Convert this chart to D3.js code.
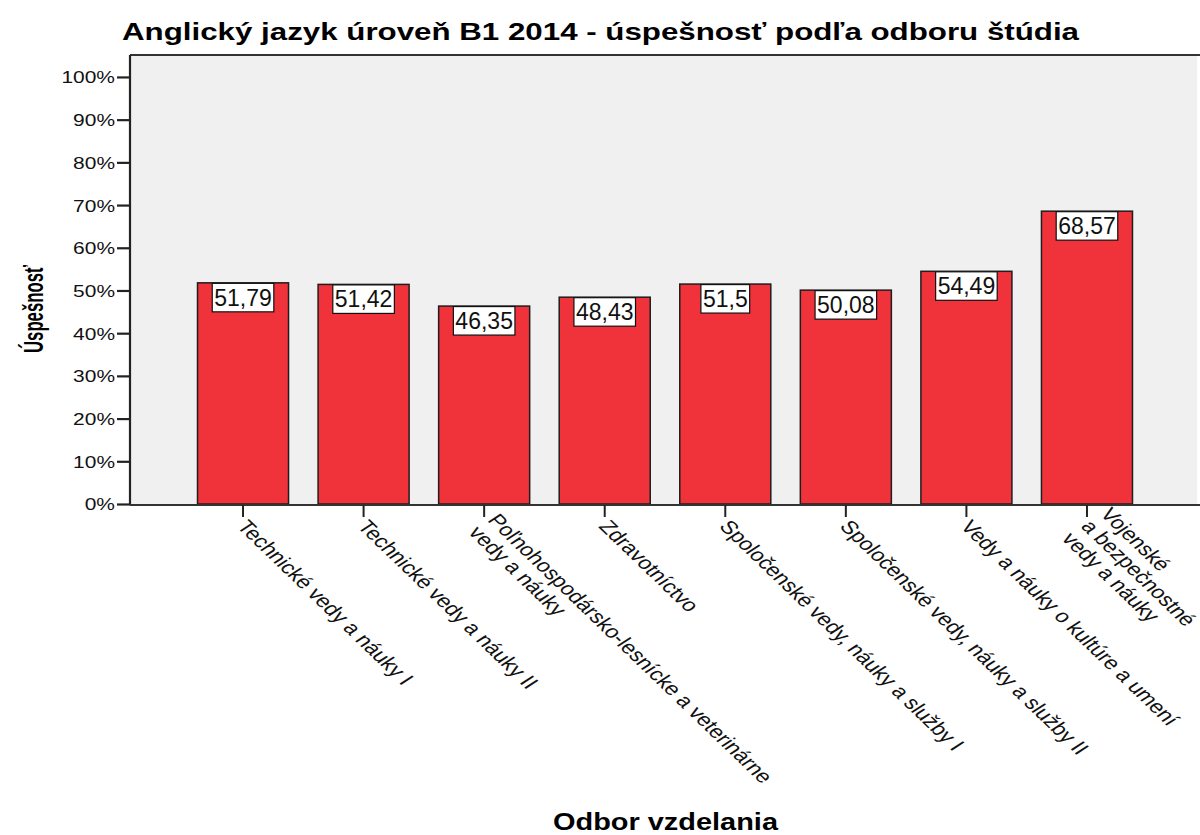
<!DOCTYPE html>
<html>
<head>
<meta charset="utf-8">
<script src="https://cdn.jsdelivr.net/npm/d3@7"></script>
<style>
  html, body { margin: 0; padding: 0; background: #ffffff; }
  svg { display: block; font-family: "Liberation Sans", Arial, sans-serif; }
</style>
</head>
<body>
<svg id="chart" width="1200" height="835"></svg>
<script>
// Study fields (line breaks mark wrapped axis labels)
const categories = [
  "Technické vedy a náuky I",
  "Technické vedy a náuky II",
  "Poľnohospodársko-lesnícke a veterinárne\nvedy a náuky",
  "Zdravotníctvo",
  "Spoločenské vedy, náuky a služby I",
  "Spoločenské vedy, náuky a služby II",
  "Vedy a náuky o kultúre a umení",
  "Vojenské\na bezpečnostné\nvedy a náuky"
];
// Success rate in percent
const values = [51.79, 51.42, 46.35, 48.43, 51.5, 50.08, 54.49, 68.57];
const valueLabels = ["51,79", "51,42", "46,35", "48,43", "51,5", "50,08", "54,49", "68,57"];
const yTicks = [0, 10, 20, 30, 40, 50, 60, 70, 80, 90, 100];

const titleText = "Anglický jazyk úroveň B1 2014 - úspešnosť podľa odboru štúdia";
const yTitle = "Úspešnosť";
const xTitle = "Odbor vzdelania";

const svg = d3.select("#chart");

// Text in this chart is drawn wide: horizontal stretch factor
const SX = 1.27;

const plot = { left: 130, right: 1197, top: 55, bottom: 504 };

const x = d3.scaleBand()
  .domain(d3.range(categories.length))
  .range([plot.left, 1200])
  .paddingInner(0.245)
  .paddingOuter(0.56);

const y = d3.scaleLinear()
  .domain([0, 105])
  .range([plot.bottom, plot.top + 0.6]);

// Plot background
svg.append("rect")
  .attr("x", plot.left).attr("y", plot.top)
  .attr("width", plot.right - plot.left).attr("height", plot.bottom - plot.top)
  .attr("fill", "#f0f0f0");

// Top frame line
svg.append("line")
  .attr("x1", plot.left).attr("x2", 1200)
  .attr("y1", plot.top).attr("y2", plot.top)
  .attr("stroke", "#333").attr("stroke-width", 2);

// Bars
svg.append("g").selectAll("rect")
  .data(values)
  .join("rect")
  .attr("x", (d, i) => x(i))
  .attr("y", d => y(d))
  .attr("width", x.bandwidth())
  .attr("height", d => y(0) - y(d))
  .attr("fill", "#f0323b")
  .attr("stroke", "#1e1e1e")
  .attr("stroke-width", 1.5);

// Value labels in white boxes at the top of each bar
const vl = svg.append("g").selectAll("g")
  .data(values)
  .join("g")
  .attr("transform", (d, i) => `translate(${x(i) + x.bandwidth() / 2},${y(d)})`);
const vlRect = vl.append("rect")
  .attr("fill", "#ffffff")
  .attr("stroke", "#111")
  .attr("stroke-width", 1.2);
const vlText = vl.append("text")
  .attr("text-anchor", "middle")
  .attr("y", 23)
  .attr("font-size", 23)
  .attr("fill", "#111")
  .text((d, i) => valueLabels[i]);
vlText.each(function (d, i) {
  const w = this.getComputedTextLength();
  d3.select(vlRect.nodes()[i])
    .attr("x", -w / 2 - 2).attr("y", 0.5)
    .attr("width", w + 4).attr("height", 28.5);
});

// Y axis
const yAxis = svg.append("g")
  .attr("transform", `translate(${plot.left},0)`)
  .call(d3.axisLeft(y).tickValues(yTicks).tickFormat(d => d + "%").tickSize(13).tickSizeOuter(0));
yAxis.select(".domain").attr("stroke", "#222").attr("stroke-width", 2.2)
  .attr("d", `M0,${plot.top}V${plot.bottom + 1}`);
yAxis.selectAll(".tick line").attr("stroke", "#222").attr("stroke-width", 2.2);
yAxis.selectAll(".tick text")
  .attr("font-size", 16.5)
  .attr("font-family", "Liberation Sans, Arial, sans-serif")
  .attr("fill", "#111")
  .attr("x", -15 / SX)
  .attr("dy", "0.36em")
  .attr("transform", `scale(${SX},1)`);

// X axis
const xAxis = svg.append("g")
  .attr("transform", `translate(0,${plot.bottom + 1})`)
  .call(d3.axisBottom(x).tickSize(12).tickSizeOuter(0).tickFormat(""));
xAxis.select(".domain").attr("stroke", "#333").attr("stroke-width", 2.2)
  .attr("d", `M${plot.left},0H1200`);
xAxis.selectAll(".tick line").attr("stroke", "#222").attr("stroke-width", 2);

// Rotated category labels (slightly under 45 degrees on screen)
const theta = Math.atan(SX * 0.96) * 180 / Math.PI;
const lineH = 19.5;
xAxis.selectAll(".tick").each(function (d, i) {
  const lines = categories[i].split("\n");
  const n = lines.length;
  const t = d3.select(this).append("text")
    .attr("transform", `translate(0,12) scale(${SX},1) rotate(${theta})`)
    .attr("font-size", 18.5)
    .attr("font-family", "Liberation Sans, Arial, sans-serif")
    .attr("fill", "#111")
    .attr("text-anchor", "start");
  lines.forEach((ln, k) => {
    t.append("tspan")
      .attr("x", 4)
      .attr("y", (k - (n - 1) / 2 + 0.2) * lineH)
      .attr("dy", "0.35em")
      .text(ln);
  });
});

// Chart title
svg.append("text")
  .attr("x", 122).attr("y", 40)
  .attr("font-size", 23).attr("font-weight", "bold")
  .attr("textLength", 957).attr("lengthAdjust", "spacingAndGlyphs")
  .attr("fill", "#000")
  .text(titleText);

// Axis titles
svg.append("text")
  .attr("transform", "translate(43,309) rotate(-90)")
  .attr("text-anchor", "middle")
  .attr("font-size", 28).attr("font-weight", "bold")
  .attr("textLength", 88).attr("lengthAdjust", "spacingAndGlyphs")
  .attr("fill", "#000")
  .text(yTitle);

svg.append("text")
  .attr("x", 553).attr("y", 830)
  .attr("font-size", 23).attr("font-weight", "bold")
  .attr("textLength", 225).attr("lengthAdjust", "spacingAndGlyphs")
  .attr("fill", "#000")
  .text(xTitle);
</script>
</body>
</html>
